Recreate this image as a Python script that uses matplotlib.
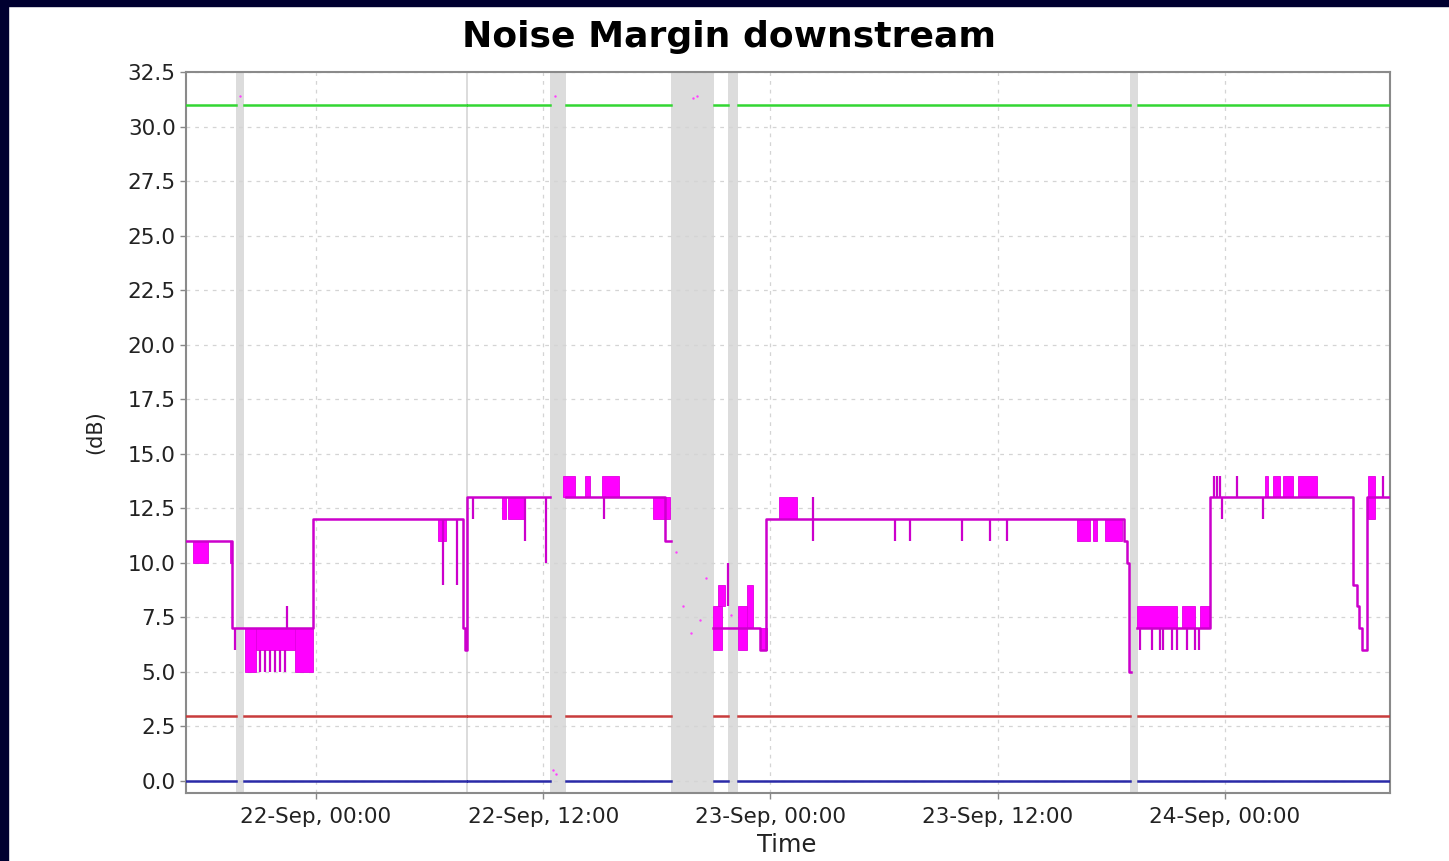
import numpy as np
import matplotlib
matplotlib.use("Agg")
import matplotlib.pyplot as plt
from matplotlib.patches import Rectangle

# ---------------- data (time = hours relative to 22-Sep 00:00) ----------------
x_start, x_end = -6.86, 56.71
xtick_hours = [0, 12, 24, 36, 48]
xtick_labels = ["22-Sep, 00:00", "22-Sep, 12:00", "23-Sep, 00:00",
                "23-Sep, 12:00", "24-Sep, 00:00"]
ytick_values = [0.0, 2.5, 5.0, 7.5, 10.0, 12.5, 15.0, 17.5, 20.0,
                22.5, 25.0, 27.5, 30.0, 32.5]

# missing-data periods (grey bands)
gap_start = [-4.22, 7.92, 12.36, 18.74, 21.75, 42.98]
gap_end = [-3.80, 8.02, 13.20, 21.01, 22.28, 43.40]

# flat reference series (dB)
max_margin = 31.0
min_margin = 3.0
zero_line = 0.0

# noise margin downstream – main stepped trace
margin_t = [-6.86, -4.44, -0.16, 7.76, 7.87, 7.97, 12.36, 13.20, 18.43, 18.74,
            20.96, 23.44, 23.76, 42.66, 42.82, 42.93, 43.03, 43.35, 47.20,
            54.75, 54.96, 55.07, 55.23, 55.49, 56.71]
margin_v = [11, 7, 12, 7, 6, 13, np.nan, 13, 11, np.nan,
            7, 6, 12, 11, 10, 5, np.nan, 7, 13,
            9, 8, 7, 6, 13, 13]

# dense fluctuation blocks: start, end, low, high
block_t0 = [-6.49, -4.55, -3.75, -3.17, -1.11, 6.44, 9.82, 10.14, 13.04, 14.20, 15.10,
            17.79, 20.96, 21.22, 22.28, 22.76, 23.44, 24.45, 40.18, 41.02, 41.66,
            43.35, 45.72, 46.67, 50.11, 50.53, 51.06, 51.85, 55.55]
block_t1 = [-5.70, -4.44, -3.17, -0.95, -0.16, 6.86, 10.03, 11.03, 13.67, 14.47, 16.00,
            18.69, 21.44, 21.59, 22.76, 23.07, 23.81, 25.40, 40.87, 41.24, 42.56,
            45.46, 46.41, 47.20, 50.26, 50.90, 51.58, 52.85, 55.92]
block_lo = [10, 10, 5, 6, 5, 11, 12, 12, 13, 13, 13,
            12, 6, 8, 6, 7, 6, 12, 11, 11, 11,
            7, 7, 7, 13, 13, 13, 13, 12]
block_hi = [11, 11, 7, 7, 7, 12, 13, 13, 14, 14, 14,
            13, 8, 9, 8, 9, 7, 13, 12, 12, 12,
            8, 8, 8, 14, 14, 14, 14, 14]

# single short excursions: time, low, high
spike_t = [-4.28, -2.96, -2.69, -2.43, -2.16, -1.90, -1.64, -1.53, 6.71, 7.44,
           8.29, 11.03, 12.14, 15.21, 21.75, 26.24, 30.57, 31.36, 34.11, 35.59,
           36.48, 43.51, 44.14, 44.56, 44.72, 45.19, 45.46, 45.99, 46.41, 46.62,
           47.41, 47.57, 47.73, 48.63, 47.84, 50.00, 56.34]
spike_lo = [6, 5, 5, 5, 5, 5, 5, 7, 9, 9,
            12, 11, 10, 12, 8, 11, 11, 11, 11, 11,
            11, 6, 6, 6, 6, 6, 6, 6, 6, 6,
            13, 13, 13, 13, 12, 12, 13]
spike_hi = [7, 6, 6, 6, 6, 6, 6, 8, 12, 12,
            13, 13, 13, 13, 10, 13, 12, 12, 12, 12,
            12, 7, 7, 7, 7, 7, 7, 7, 7, 7,
            14, 14, 14, 14, 13, 13, 14]

# stray samples inside the outages
stray_t = [-4.0, 12.5, 12.6, 12.7, 19.0, 19.4, 19.8, 20.3, 20.6, 19.9, 20.1, 21.9]
stray_v = [31.4, 0.5, 31.4, 0.3, 10.5, 8.0, 6.8, 7.4, 9.3, 31.3, 31.4, 7.6]

# ---------------- figure ----------------
fig = plt.figure(figsize=(14.49, 8.61), dpi=100, facecolor="white")
navy = "#000030"
fig.add_artist(Rectangle((0, 1 - 6 / 861), 1, 6 / 861, transform=fig.transFigure,
                         color=navy, zorder=10))
fig.add_artist(Rectangle((0, 0), 8 / 1449, 1, transform=fig.transFigure,
                         color=navy, zorder=10))

ax = fig.add_axes([186 / 1449, 1 - 793 / 861, (1390 - 186) / 1449, (793 - 72) / 861])
ax.set_facecolor("white")

for g0, g1 in zip(gap_start, gap_end):
    ax.axvspan(g0, g1, color="#dcdcdc", lw=0, zorder=0.5)

# flat series with breaks at outages
def broken(level):
    ts, vs = [], []
    edges = [x_start] + [v for pair in zip(gap_start, gap_end) for v in pair] + [x_end]
    for i in range(0, len(edges), 2):
        a, b = edges[i], edges[i + 1]
        if b - a < 0.2:
            continue
        ts += [a, b, np.nan]
        vs += [level, level, np.nan]
    return ts, vs

for lev, col in [(max_margin, "#33d633"), (min_margin, "#c83c3c"), (zero_line, "#2a2aa8")]:
    t, v = broken(lev)
    ax.plot(t, v, color=col, lw=1.8, zorder=3)

ax.bar(block_t0, np.array(block_hi) - np.array(block_lo),
       width=np.array(block_t1) - np.array(block_t0), bottom=block_lo,
       align="edge", color="#ff00ff", edgecolor="#e000e0", lw=0.6, zorder=4)
ax.vlines(spike_t, spike_lo, spike_hi, color="#cc00cc", lw=1.6, zorder=4)
ax.step(margin_t, margin_v, where="post", color="#cc00cc", lw=1.8, zorder=5)
ax.scatter(stray_t, stray_v, s=3, color="#ff40ff", zorder=5, lw=0)

ax.set_xlim(x_start, x_end)
ax.set_ylim(-0.55, 32.5)
ax.set_xticks(xtick_hours)
ax.set_xticklabels(xtick_labels)
ax.set_yticks(ytick_values)
ax.set_yticklabels([f"{v:.1f}" for v in ytick_values])
ax.tick_params(axis="both", labelsize=15.5, colors="#222222", length=4,
               direction="out", width=1)
ax.tick_params(axis="x", pad=6)
ax.tick_params(axis="both", color="#888888")
ax.grid(True, color="#d4d4d4", lw=0.9, ls=(0, (3, 4)), zorder=1)
ax.set_axisbelow(True)
for s in ax.spines.values():
    s.set_color("#8a8a8a")
    s.set_linewidth(1.5)

ax.set_xlabel("Time", fontsize=17.5, color="#222222")
ax.xaxis.set_label_coords(0.499, -0.072)
ax.xaxis.label.set_va("center")
ax.set_ylabel("(dB)", fontsize=15, color="#222222")
ax.yaxis.set_label_coords(-0.0756, 0.5)
ax.yaxis.label.set_va("center")

fig.text(0.503, 0.957, "Noise Margin downstream", ha="center", va="center",
         fontsize=26, fontweight="bold", family="DejaVu Sans", color="black")

fig.savefig("out.png", dpi=100, facecolor="white")
